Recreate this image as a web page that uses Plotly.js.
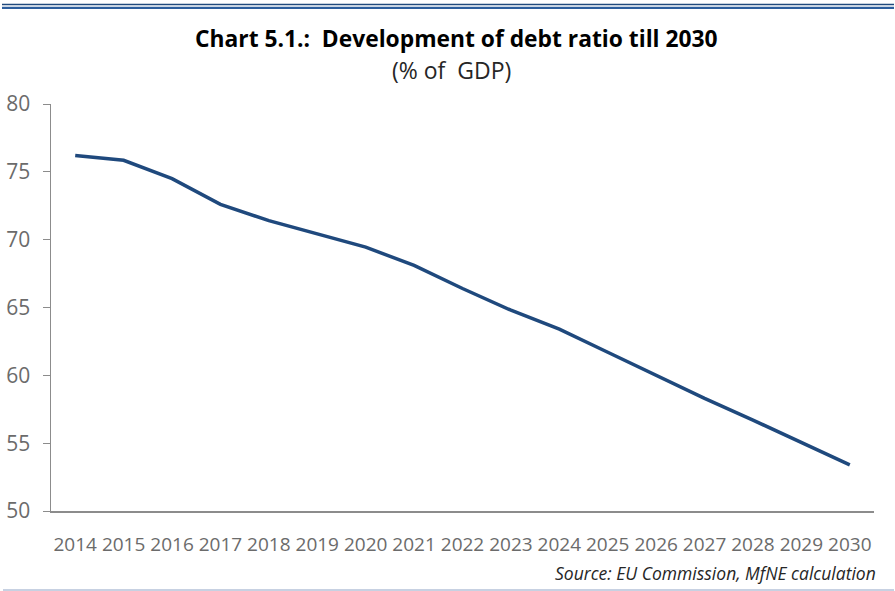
<!DOCTYPE html>
<html>
<head>
<meta charset="utf-8">
<script src="https://cdn.plot.ly/plotly-3.0.1.min.js"></script>
<style>html,body{margin:0;padding:0;background:#fff;}#chart{width:895px;height:591px;}</style>
</head>
<body>
<div id="chart"></div>
<script>
var years = ['2014','2015','2016','2017','2018','2019','2020','2021','2022','2023','2024','2025','2026','2027','2028','2029','2030'];
var debtRatio = [76.2, 75.85, 74.5, 72.6, 71.4, 70.45, 69.45, 68.1, 66.4, 64.8, 63.4, 61.7, 60.0, 58.3, 56.7, 55.05, 53.4];
var yTicks = [50, 55, 60, 65, 70, 75, 80];

var titleText = '<b>Chart 5.1.:  Development of debt ratio till 2030</b>';
var subtitleText = '(% of  GDP)';
var sourceText = '<i>Source: EU Commission, MfNE calculation</i>';

var trace = {
  x: years, y: debtRatio, type: 'scatter', mode: 'lines',
  line: {color: '#1f497d', width: 3.5},
  hoverinfo: 'x+y'
};

var plotH = 591 - 104 - 80, plotW = 895 - 51 - 21;
function py(pix) { return (591 - 80 - pix) / plotH; }
function px(pix) { return (pix - 51) / plotW; }

var layout = {
  width: 895, height: 591,
  paper_bgcolor: '#ffffff', plot_bgcolor: '#ffffff',
  margin: {l: 51, r: 21, t: 104, b: 80},
  showlegend: false,
  font: {family: '"Open Sans", "Noto Sans", sans-serif', color: '#6b6b6b'},
  xaxis: {
    type: 'category', range: [-0.5, 16.5], showgrid: false, zeroline: false,
    showline: true, linecolor: '#8c8c8c', linewidth: 1.5,
    ticks: '', tickfont: {size: 19, color: '#6b6b6b'},
    ticklabelstandoff: 16
  },
  yaxis: {
    range: [50, 80], tickvals: yTicks, showgrid: false, zeroline: false,
    showline: true, linecolor: '#8c8c8c', linewidth: 1.5,
    ticks: 'outside', ticklen: 7, tickcolor: '#8c8c8c', tickwidth: 1,
    tickfont: {size: 21, color: '#6b6b6b'},
    ticklabelstandoff: 8
  },
  annotations: [
    {text: titleText, xref: 'paper', yref: 'paper', x: px(456), y: 1, yshift: 66, xanchor: 'center', yanchor: 'middle', showarrow: false, font: {size: 22.8, color: '#000000'}},
    {text: subtitleText, xref: 'paper', yref: 'paper', x: px(451), y: 1, yshift: 34, xanchor: 'center', yanchor: 'middle', showarrow: false, font: {size: 23, color: '#262626'}},
    {text: sourceText, xref: 'paper', yref: 'paper', x: 1, xshift: 4, y: 0, yshift: -62, xanchor: 'right', yanchor: 'middle', showarrow: false, font: {size: 17.5, color: '#262626'}}
  ],
  shapes: [
    {type: 'line', xref: 'paper', yref: 'paper', x0: px(2), x1: px(894), y0: py(4.5), y1: py(4.5), line: {color: '#1f497d', width: 1.5}},
    {type: 'line', xref: 'paper', yref: 'paper', x0: px(2), x1: px(894), y0: py(7.8), y1: py(7.8), line: {color: '#2e5f9e', width: 2.2}},
    {type: 'line', xref: 'paper', yref: 'paper', x0: px(3), x1: px(894), y0: py(590), y1: py(590), line: {color: '#b4c2d9', width: 1.5}}
  ]
};

Plotly.newPlot('chart', [trace], layout, {displayModeBar: false, staticPlot: true});
</script>
</body>
</html>
